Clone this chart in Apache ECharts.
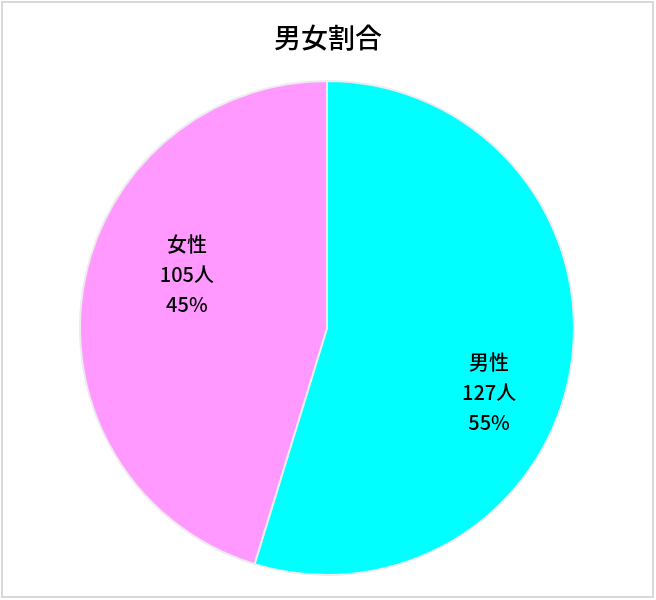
<!DOCTYPE html>
<html>
<head>
<meta charset="utf-8">
<script src="https://cdn.jsdelivr.net/npm/echarts@6/dist/echarts.min.js"></script>
<style>
    html, body { margin: 0; padding: 0; background: #fff; }
    #chart { width: 656px; height: 600px; }
</style>
</head>
<body>
<div id="chart"></div>
<script>
// データ
var names = ['男性', '女性'];
var counts = [127, 105];
var colors = ['#00FFFF', '#FF99FF'];
// ラベルのずらし量（Excel風の位置に合わせる）
var labelShift = [[37, 46], [-15, -35]];

var chart = echarts.init(document.getElementById('chart'));

var option = {
    backgroundColor: '#fff',
    title: {
        text: '男女割合',
        left: 'center',
        top: 19,
        textStyle: {
            fontFamily: 'Noto Sans CJK JP',
            fontSize: 27,
            fontWeight: 500,
            color: '#000'
        }
    },
    // 外枠
    graphic: [{
        type: 'rect',
        shape: { x: 2, y: 2, width: 651, height: 595 },
        style: { fill: null, stroke: '#d9d9d9', lineWidth: 2 }
    }],
    series: [{
        type: 'pie',
        center: [327, 328],
        radius: 247,
        startAngle: 90,
        clockwise: true,
        animation: false,
        itemStyle: {
            borderColor: '#ececec',
            borderWidth: 2
        },
        label: {
            position: 'inside',
            fontFamily: 'Noto Sans CJK JP',
            fontSize: 20,
            fontWeight: 500,
            lineHeight: 30,
            color: '#000',
            align: 'center',
            formatter: function (p) {
                return p.name + '\n' + p.value + '人\n' + Math.round(p.percent) + '%';
            }
        },
        labelLayout: function (p) {
            var s = labelShift[p.dataIndex];
            return { dx: s[0], dy: s[1] };
        },
        emphasis: { disabled: true },
        data: names.map(function (n, i) {
            return { name: n, value: counts[i], itemStyle: { color: colors[i] } };
        })
    }]
};

chart.setOption(option);
</script>
</body>
</html>
